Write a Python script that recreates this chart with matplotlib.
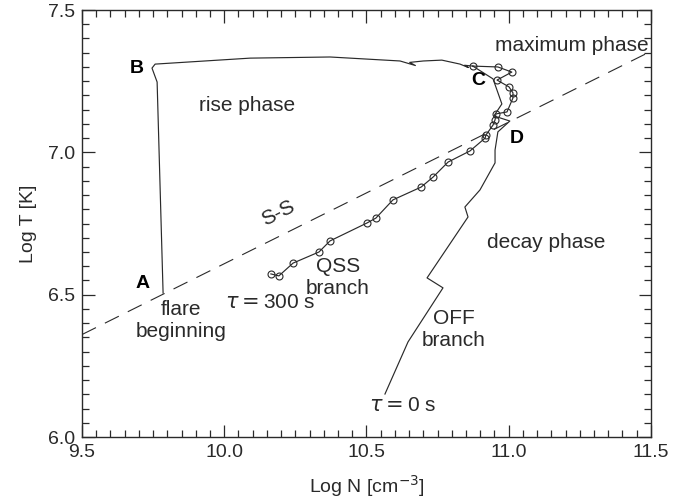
import matplotlib.pyplot as plt
from matplotlib.ticker import MultipleLocator

plt.rcParams['font.family'] = ['Liberation Sans', 'DejaVu Sans']
plt.rcParams['mathtext.fontset'] = 'dejavusans'

# common rise path A -> B -> C
rise_n = [9.785, 9.764, 9.746, 9.757, 10.091, 10.372, 10.618, 10.672, 10.652,
          10.700, 10.765, 10.829, 10.858, 10.845, 10.874]
rise_t = [6.506, 7.247, 7.296, 7.310, 7.331, 7.335, 7.321, 7.305, 7.316,
          7.321, 7.324, 7.310, 7.298, 7.306, 7.303]

# tau = 300 s decay (QSS branch), sampled points
qss_n = [10.874, 10.962, 11.011, 10.959, 11.001, 11.015, 11.015, 10.994, 10.955,
         10.952, 10.945, 10.920, 10.917, 10.864, 10.787, 10.734, 10.692, 10.593,
         10.533, 10.502, 10.372, 10.333, 10.242, 10.192, 10.164]
qss_t = [7.303, 7.300, 7.282, 7.254, 7.230, 7.209, 7.191, 7.142, 7.135,
         7.114, 7.096, 7.061, 7.050, 7.005, 6.966, 6.913, 6.878, 6.833,
         6.769, 6.752, 6.689, 6.650, 6.611, 6.566, 6.573]

# tau = 0 s decay (OFF branch)
off_n = [10.874, 10.945, 10.976, 10.948, 11.004, 10.962, 10.952, 10.952, 10.899,
         10.846, 10.857, 10.713, 10.769, 10.646, 10.565]
off_t = [7.303, 7.258, 7.170, 7.128, 7.110, 7.072, 7.008, 6.963, 6.868,
         6.808, 6.773, 6.559, 6.524, 6.334, 6.151]

# steady-state scaling line
ss_n = [9.5, 11.5]
ss_t = [6.36, 7.355]

fig = plt.figure(figsize=(6.91, 5.01), dpi=100)
ax = fig.add_axes([0.1187, 0.1277, 0.9420 - 0.1187, 0.980 - 0.1277])

lc = '#2a2a2a'
ax.plot(ss_n, ss_t, color=lc, lw=0.8, dashes=(14, 9))
ax.plot(rise_n, rise_t, color=lc, lw=0.85)
ax.plot(off_n, off_t, color=lc, lw=0.85)
ax.plot(qss_n, qss_t, color=lc, lw=0.85, marker='o', markersize=5,
        markerfacecolor='none', markeredgewidth=0.8)

ax.set_xlim(9.5, 11.5)
ax.set_ylim(6.0, 7.5)
ax.xaxis.set_major_locator(MultipleLocator(0.5))
ax.xaxis.set_minor_locator(MultipleLocator(0.05))
ax.yaxis.set_major_locator(MultipleLocator(0.5))
ax.yaxis.set_minor_locator(MultipleLocator(0.05))
ax.xaxis.set_major_formatter(lambda v, p: f'{v:.1f}')
ax.yaxis.set_major_formatter(lambda v, p: f'{v:.1f}')
ax.tick_params(which='both', direction='in', top=True, right=True,
               labelsize=14, colors=lc, width=0.9)
ax.tick_params(which='major', length=9, pad=5)
ax.tick_params(which='minor', length=5)
for s in ax.spines.values():
    s.set_color(lc)
    s.set_linewidth(1.0)

ax.set_xlabel('Log N [cm$^{-3}$]', fontsize=14, color=lc, labelpad=9)
ax.set_ylabel('Log T [K]', fontsize=14, color=lc, labelpad=8)

bold = dict(fontsize=14, fontweight='bold', color='black', ha='center', va='center')
ax.text(9.693, 7.296, 'B', **bold)
ax.text(9.714, 6.541, 'A', **bold)
ax.text(10.892, 7.254, 'C', **bold)
ax.text(11.029, 7.050, 'D', **bold)

lab = dict(fontsize=15, color=lc, ha='center', va='center')
ax.text(10.08, 7.166, 'rise phase', **lab)
ax.text(11.222, 7.377, 'maximum phase', **lab)
ax.text(11.131, 6.682, 'decay phase', **lab)
ax.text(10.40, 6.562, 'QSS\nbranch', linespacing=1.2, **lab)
ax.text(10.8075, 6.376, 'OFF\nbranch', linespacing=1.2, **lab)
ax.text(9.848, 6.411, 'flare\nbeginning', linespacing=1.2, **lab)
ax.text(10.161, 6.471, r'$\tau = $300 s', **lab)
ax.text(10.628, 6.109, r'$\tau = $0 s', **lab)
ax.text(10.189, 6.785, 'S-S', rotation=27, **lab)

fig.savefig('out.png', dpi=100)
